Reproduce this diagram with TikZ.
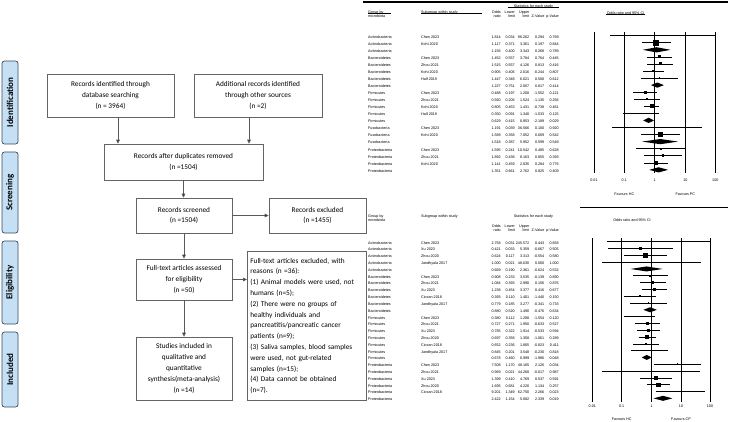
\documentclass[tikz,border=0pt]{standalone}
\usepackage{fontspec}
\setmainfont{Carlito}
\newfontfamily\arialf{Liberation Sans}
\usetikzlibrary{arrows.meta}
\definecolor{boxgray}{RGB}{100,100,100}
\definecolor{arrgray}{RGB}{90,90,90}
\definecolor{sidefill}{RGB}{197,224,244}
\definecolor{sidebd}{RGB}{60,75,95}
\begin{document}
\begin{tikzpicture}[x=1pt,y=-1pt,
 fbox/.style={draw=boxgray, line width=0.7pt, align=center, font=\fontsize{7.3}{10.8}\selectfont, inner sep=2pt},
 side/.style={draw=sidebd, fill=sidefill, rounded corners=2.5pt, line width=0.7pt, rotate=90, minimum height=16pt, inner sep=0pt, font=\bfseries\fontsize{9}{10}\selectfont},
 arr/.style={draw=arrgray, line width=0.8pt, -{Triangle[length=4pt,width=3.6pt,fill=black]}},
 tb/.style={font=\arialf\fontsize{3.7}{4.2}\selectfont, inner sep=0pt},
 grid/.style={line width=0.9pt},
 ci/.style={line width=0.55pt}]
\useasboundingbox (0,0) rectangle (733,421);

% ---------------- PRISMA flow ----------------
\node[side, minimum width=83pt] (sid) at (10,102.5) {Identification};
\node[side, minimum width=81pt] (ssc) at (10,192.5) {Screening};
\node[side, minimum width=83pt] (sel) at (10,282.5) {Eligibility};
\node[side, minimum width=75pt] (sin) at (10,369.5) {Included};

\node[fbox, minimum width=127pt, minimum height=43pt] (b1) at (110.5,95.5) {Records identified through\\database searching\\(n = 3964)};
\node[fbox, minimum width=128pt, minimum height=43pt] (b2) at (258,95.5) {Additional records identified\\through other sources\\(n =2)};
\node[fbox, minimum width=159pt, minimum height=36pt] (b3) at (183.5,162) {Records after duplicates removed\\(n =1504)};
\node[fbox, minimum width=96pt, minimum height=35pt] (b4) at (184,215.5) {Records screened\\(n =1504)};
\node[fbox, minimum width=97pt, minimum height=35pt] (b5) at (317.5,215.5) {Records excluded\\(n =1455)};
\node[fbox, minimum width=96pt, minimum height=41pt] (b6) at (184,279.5) {Full-text articles assessed\\for eligibility\\(n =50)};
\node[fbox, minimum width=119pt, minimum height=149pt, anchor=north west, align=left, text width=113pt, inner xsep=3pt] (b7) at (247,251) {Full-text articles excluded, with\\reasons (n =36):\\(1) Animal models were used, not\\humans (n=5);\\(2) There were no groups of\\healthy individuals and\\pancreatitis/pancreatic cancer\\patients (n=9);\\(3) Saliva samples, blood samples\\were used, not gut-related\\samples (n=15);\\(4) Data cannot be obtained\\(n=7).};
\node[fbox, minimum width=96pt, minimum height=63pt] (b8) at (184,368.5) {Studies included in\\qualitative and\\quantitative\\synthesis(meta-analysis)\\(n =14)};

\draw[arr] ([xshift=7.5pt]b1.south) -- ([xshift=7.5pt]b1.south |- b3.north);
\draw[arr] ([xshift=-9pt]b2.south) -- ([xshift=-9pt]b2.south |- b3.north);
\draw[arr] (b3.south) -- (b3.south |- b4.north);
\draw[arr] (b4.east) -- (b5.west);
\draw[arr] (b4.south) -- (b6.north);
\draw[arr] (b6.east) -- (b6.east -| b7.west);
\draw[arr] (b6.south) -- (b8.north);

% ---------------- Forest plot 1 ----------------
\def\cA{501}\def\cB{515}\def\cC{529.5}\def\cD{544.5}\def\cE{559}
\draw[line width=1.2pt] (363,2) -- (728,2);
\draw[line width=0.9pt] (580,207) -- (728,207);
\node[tb,anchor=mid west] at (368,10.7) {Group by};
\draw[line width=0.3pt] (368,12.8) -- (391,12.8);
\node[tb,anchor=mid west] at (368,14.8) {microbiota};
\node[tb,anchor=mid west] at (421,10.7) {Subgroup within study};
\draw[line width=0.3pt] (421,12.8) -- (482,12.8);
\node[tb,anchor=mid] at (533.5,4.8) {Statistics for each study};
\draw[line width=0.3pt] (508,6.9) -- (559,6.9);
\node[tb,anchor=mid east] at (\cA,10.8) {Odds};
\node[tb,anchor=mid east] at (\cA,14.8) {ratio};
\node[tb,anchor=mid east] at (\cB,10.8) {Lower};
\node[tb,anchor=mid east] at (\cB,14.8) {limit};
\node[tb,anchor=mid east] at (\cC,10.8) {Upper};
\node[tb,anchor=mid east] at (\cC,14.8) {limit};
\node[tb,anchor=mid east] at (\cD,14.8) {Z-Value};
\node[tb,anchor=mid east] at (\cE,14.8) {p-Value};
\node[tb,anchor=mid] at (625.5,11.7) {Odds ratio and 95\% CI};
\draw[line width=0.3pt] (606,13.8) -- (645,13.8);

\foreach \vx/\lab in {594/0.01,624.3/0.1,654.7/1,685.3/10,715.3/100}{
  \draw[grid] (\vx,32.3) -- (\vx,173.3);
  \node[tb,anchor=mid] at (\vx,179) {\lab};
}
\node[tb,anchor=mid] at (624.3,192.7) {Favours HC};
\node[tb,anchor=mid] at (685.3,192.7) {Favours PC};

\foreach \grp/\sub/\orv/\lov/\upv/\zv/\pv/\typ/\sz [count=\i] in {
Actinobacteria/Chen 2023/1.814/0.034/96.262/0.294/0.769/s/1.3,
Actinobacteria/Kohi 2020/1.117/0.371/3.361/0.197/0.844/s/5.7,
Actinobacteria/{}/1.156/0.400/3.343/0.268/0.789/d/0,
Bacteroidetes/Chen 2023/1.452/0.557/3.784/0.764/0.445/s/3,
Bacteroidetes/Zhou 2021/1.515/0.557/4.126/0.813/0.416/s/3,
Bacteroidetes/Kohi 2020/0.905/0.406/2.016/-0.244/0.807/s/2.7,
Bacteroidetes/Half 2019/1.447/0.348/6.021/0.508/0.612/s/1.7,
Bacteroidetes/{}/1.227/0.751/2.007/0.817/0.414/d/0,
Firmicutes/Chen 2023/0.488/0.197/1.208/-1.552/0.121/s/2.7,
Firmicutes/Zhou 2021/0.560/0.206/1.524/-1.135/0.256/s/2.3,
Firmicutes/Kohi 2020/0.805/0.453/1.431/-0.738/0.461/s/4,
Firmicutes/Half 2019/0.350/0.091/1.340/-1.533/0.125/s/1.7,
Firmicutes/{}/0.629/0.415/0.953/-2.189/0.029/d/0,
Fusobacteria/Chen 2023/1.191/0.039/36.566/0.100/0.920/s/1,
Fusobacteria/Kohi 2020/1.589/0.358/7.052/0.609/0.542/s/5,
Fusobacteria/{}/1.518/0.387/5.952/0.599/0.549/d/0,
Proteobacteria/Chen 2023/1.595/0.241/10.542/0.485/0.628/s/1.7,
Proteobacteria/Zhou 2021/1.892/0.438/8.163/0.855/0.393/s/2.7,
Proteobacteria/Kohi 2020/1.141/0.459/2.835/0.284/0.776/s/4,
Proteobacteria/{}/1.351/0.661/2.762/0.825/0.409/d/0}{
  \pgfmathsetmacro\yy{35.7+7.06*(\i-1)}
  \node[tb,anchor=mid west] at (368,\yy) {\grp};
  \node[tb,anchor=mid west] at (421,\yy) {\sub};
  \node[tb,anchor=mid east] at (\cA,\yy) {\orv};
  \node[tb,anchor=mid east] at (\cB,\yy) {\lov};
  \node[tb,anchor=mid east] at (\cC,\yy) {\upv};
  \node[tb,anchor=mid east] at (\cD,\yy) {\zv};
  \node[tb,anchor=mid east] at (\cE,\yy) {\pv};
  \pgfmathsetmacro\xo{654.7+30.3*log10(\orv)}
  \pgfmathsetmacro\xl{max(594,654.7+30.3*log10(\lov))}
  \pgfmathsetmacro\xu{min(715.3,654.7+30.3*log10(\upv))}
  \if\typ s
    \draw[ci] (\xl,\yy) -- (\xu,\yy);
    \fill ({\xo-\sz/2},{\yy-\sz/2}) rectangle ++(\sz,\sz);
  \else
    \fill (\xl,\yy) -- (\xo,\yy-2.6) -- (\xu,\yy) -- (\xo,\yy+2.6) -- cycle;
  \fi
}

% ---------------- Forest plot 2 ----------------
\node[tb,anchor=mid west] at (368,214.7) {Group by};
\node[tb,anchor=mid west] at (368,218.8) {microbiota};
\node[tb,anchor=mid west] at (421,214.7) {Subgroup within study};
\node[tb,anchor=mid] at (533.5,215) {Statistics for each study};
\node[tb,anchor=mid east] at (\cA,225) {Odds};
\node[tb,anchor=mid east] at (\cA,229) {ratio};
\node[tb,anchor=mid east] at (\cB,225) {Lower};
\node[tb,anchor=mid east] at (\cB,229) {limit};
\node[tb,anchor=mid east] at (\cC,225) {Upper};
\node[tb,anchor=mid east] at (\cC,229) {limit};
\node[tb,anchor=mid east] at (\cD,229) {Z-Value};
\node[tb,anchor=mid east] at (\cE,229) {p-Value};
\node[tb,anchor=mid] at (632,219.3) {Odds ratio and 95\% CI};

\foreach \vx/\lab in {592.3/0.01,621.7/0.1,651.7/1,681/10,710/100}{
  \draw[grid] (\vx,238) -- (\vx,401.7);
  \node[tb,anchor=mid] at (\vx,405.3) {\lab};
}
\node[tb,anchor=mid] at (621.7,418.2) {Favours HC};
\node[tb,anchor=mid] at (681,418.2) {Favours CP};

\foreach \grp/\sub/\orv/\lov/\upv/\zv/\pv/\typ/\sz [count=\i] in {
Actinobacteria/Chen 2023/2.758/0.031/245.572/0.443/0.658/s/1,
Actinobacteria/Xu 2023/0.421/0.033/5.359/-0.667/0.505/s/3.3,
Actinobacteria/Zhou 2020/0.624/0.117/3.313/-0.554/0.580/s/4.7,
Actinobacteria/Jandhyala 2017/1.000/0.021/48.630/0.000/1.000/s/1,
Actinobacteria/{}/0.669/0.190/2.361/-0.624/0.532/d/0,
Bacteroidetes/Chen 2023/0.908/0.233/3.535/-0.139/0.890/s/2,
Bacteroidetes/Zhou 2021/1.084/0.393/2.990/0.156/0.876/s/3,
Bacteroidetes/Xu 2023/1.238/0.454/3.377/0.416/0.677/s/3.7,
Bacteroidetes/Ciocan 2018/0.393/0.110/1.401/-1.440/0.150/s/2.3,
Bacteroidetes/Jandhyala 2017/0.779/0.185/3.277/-0.341/0.733/s/1.7,
Bacteroidetes/{}/0.880/0.520/1.490/-0.476/0.634/d/0,
Firmicutes/Chen 2023/0.380/0.112/1.288/-1.554/0.120/s/1.7,
Firmicutes/Zhou 2021/0.727/0.271/1.950/-0.633/0.527/s/2.3,
Firmicutes/Xu 2023/0.785/0.322/1.914/-0.533/0.594/s/2.7,
Firmicutes/Zhou 2020/0.697/0.358/1.358/-1.061/0.289/s/3.7,
Firmicutes/Ciocan 2018/0.652/0.236/1.805/-0.823/0.411/s/2.3,
Firmicutes/Jandhyala 2017/0.845/0.201/3.548/-0.230/0.818/s/1.3,
Firmicutes/{}/0.678/0.460/0.999/-1.986/0.048/d/0,
Proteobacteria/Chen 2023/7.508/1.170/48.165/2.126/0.034/s/1.7,
Proteobacteria/Zhou 2021/0.969/0.021/44.268/-0.017/0.987/s/1,
Proteobacteria/Xu 2023/1.399/0.410/4.769/0.537/0.591/s/3.3,
Proteobacteria/Zhou 2020/1.695/0.681/4.220/1.134/0.257/s/4.3,
Proteobacteria/Ciocan 2018/9.201/1.349/62.750/2.266/0.023/s/1.7,
Proteobacteria/{}/2.422/1.154/5.082/2.339/0.019/d/0}{
  \pgfmathsetmacro\yy{241.7+6.81*(\i-1)}
  \node[tb,anchor=mid west] at (368,\yy) {\grp};
  \node[tb,anchor=mid west] at (421,\yy) {\sub};
  \node[tb,anchor=mid east] at (\cA,\yy) {\orv};
  \node[tb,anchor=mid east] at (\cB,\yy) {\lov};
  \node[tb,anchor=mid east] at (\cC,\yy) {\upv};
  \node[tb,anchor=mid east] at (\cD,\yy) {\zv};
  \node[tb,anchor=mid east] at (\cE,\yy) {\pv};
  \pgfmathsetmacro\xo{651.7+29.4*log10(\orv)}
  \pgfmathsetmacro\xl{max(592.3,651.7+29.4*log10(\lov))}
  \pgfmathsetmacro\xu{min(710,651.7+29.4*log10(\upv))}
  \if\typ s
    \draw[ci] (\xl,\yy) -- (\xu,\yy);
    \fill ({\xo-\sz/2},{\yy-\sz/2}) rectangle ++(\sz,\sz);
  \else
    \fill (\xl,\yy) -- (\xo,\yy-2.5) -- (\xu,\yy) -- (\xo,\yy+2.5) -- cycle;
  \fi
}
\end{tikzpicture}
\end{document}
